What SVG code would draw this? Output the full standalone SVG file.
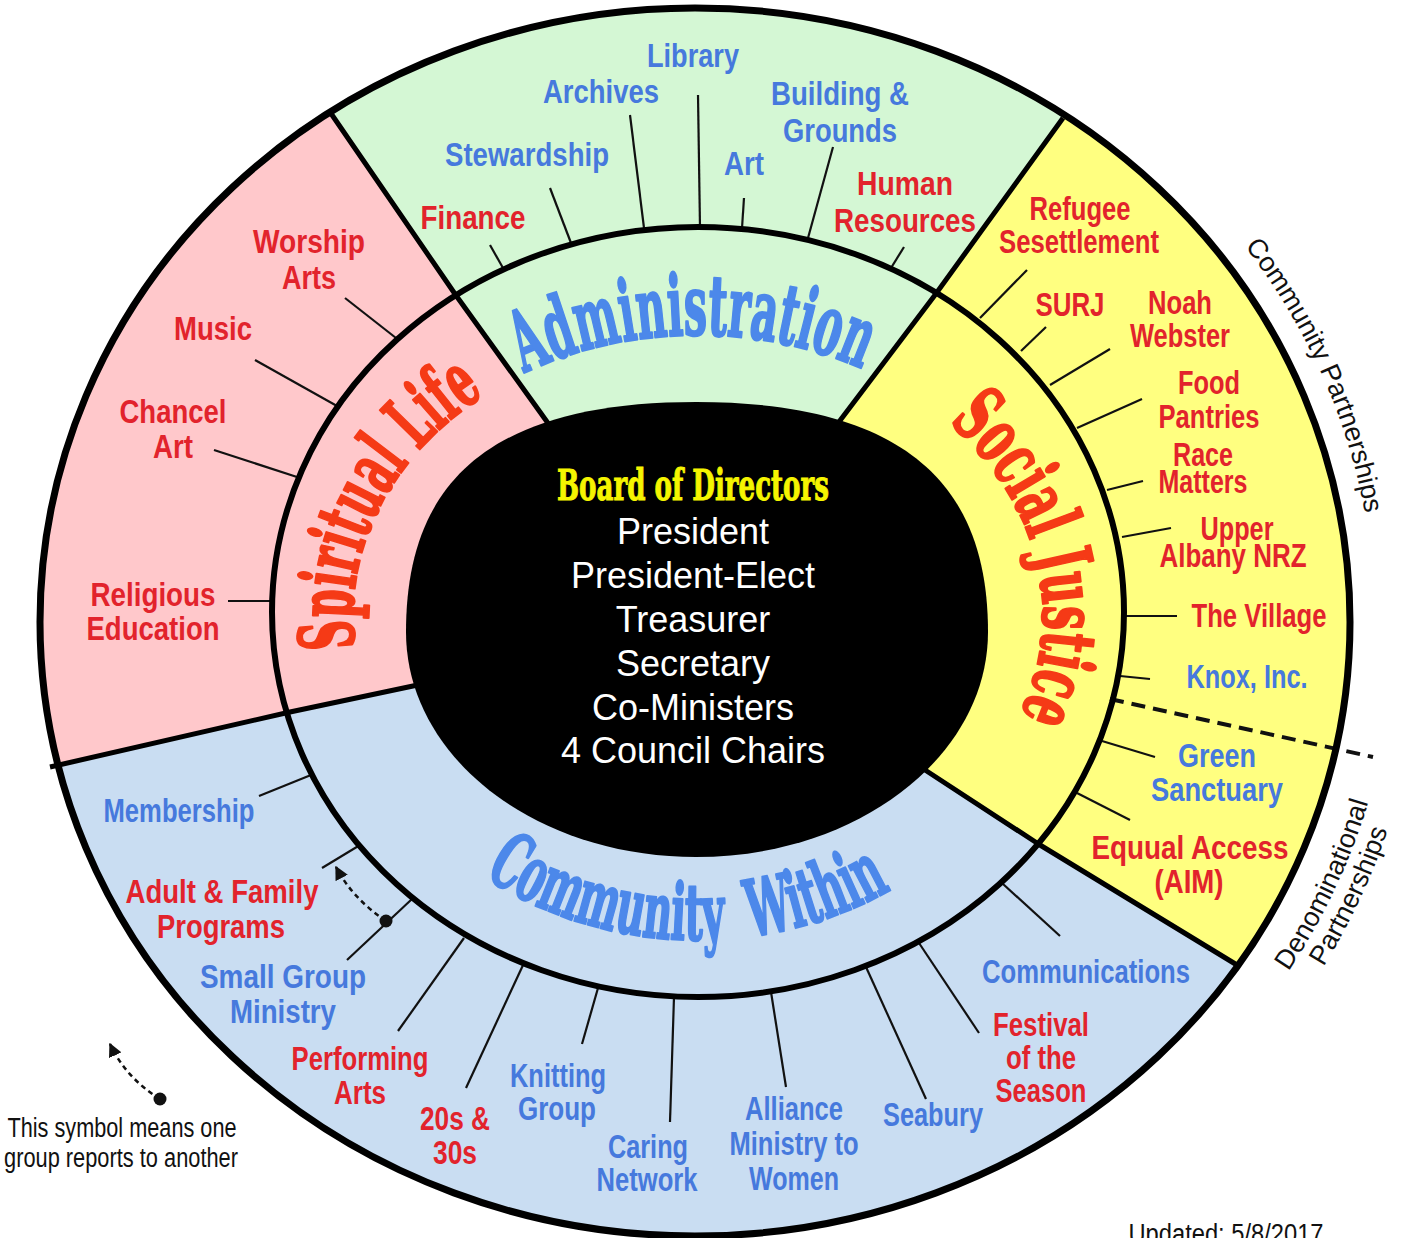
<svg xmlns="http://www.w3.org/2000/svg" width="1404" height="1238" viewBox="0 0 1404 1238">
<style>
.lbl{font-family:"Liberation Sans Narrow","Arial Narrow","Liberation Sans",Arial,sans-serif;font-weight:bold;font-size:33px;text-anchor:middle}
.r{fill:#E2232C}
.b{fill:#4679DD}
.title{font-family:"DejaVu Serif","Liberation Serif",serif;font-weight:bold;stroke-width:2.5;stroke-linejoin:round}
.tb{fill:#4C88EA;stroke:#4C88EA}
.tr{fill:#F53A16;stroke:#F53A16}
.ctr{font-family:"Liberation Sans",Arial,sans-serif;font-size:36px;fill:#fff;text-anchor:middle}
.out{font-family:"Liberation Sans",Arial,sans-serif;font-size:27px;fill:#111}
.lead{stroke:#111;stroke-width:2.2;fill:none}
.div{stroke:#000;stroke-width:5;fill:none;stroke-linejoin:round}
.dash{stroke:#111;stroke-width:2.5;fill:none;stroke-dasharray:5 4}
</style>
<defs>
<clipPath id="clipOuter"><ellipse cx="695" cy="622" rx="655" ry="614"/></clipPath>
<marker id="ah" viewBox="0 0 10 10" refX="9" refY="5" markerWidth="5.5" markerHeight="5.5" orient="auto"><path d="M0,0 L10,5 L0,10 z" fill="#111"/></marker>
<path id="pAdmin" d="M 429.9 438.8 A 345 280 0 0 1 958.4 431.3"/>
<path id="pSpirit" d="M 399.2 755 A 345 280 0 0 1 591.4 348.7"/>
<path id="pSocial" d="M 867.9 371.3 A 345 280 0 0 1 964.2 793.1"/>
<path id="pComm" d="M 418.2 819.5 A 360 325 0 0 0 969.7 828.2"/>
<path id="pCP" d="M 1035 69.5 A 680 638 0 0 1 1351.8 787.1"/>
<path id="pDen1" d="M 1045 1192.7 A 700 659 0 0 0 1377.1 473.8"/>
<path id="pDen2" d="M 1058.5 1216.1 A 727 686 0 0 0 1403.4 467.7"/>
</defs>
<rect width="1404" height="1238" fill="#fff"/>

<g id="sectors" clip-path="url(#clipOuter)">
<ellipse cx="695" cy="622" rx="655" ry="614" fill="#C9DDF2"/>
<polygon fill="#FFC8CB" points="697,630 575,461 540,412 455,294 330,112 239,-20 -20,-20 -20,784 50,768 290,712 413,686 471.7,673.6"/>
<polygon fill="#D4F7D4" points="697,630 575,461 540,412 455,294 330,112 239,-20 1163,-20 1058,125 935,295 848,410 811.8,457.8"/>
<polygon fill="#FFFF80" points="697,630 811.8,457.8 848,410 935,295 1058,125 1163,-20 1424,-20 1424,1079 1232,962 1040,845 922,768 871.8,735.2"/>
</g>

<g id="connectors">
<polyline class="div" points="575,461 540,412 455,294 330,112"/>
<polyline class="div" points="811.8,457.8 848,410 935,295 1063,118"/>
<polyline class="div" points="871.8,735.2 922,768 1040,845 1237,965"/>
<polyline class="div" points="471.7,673.6 413,686 290,712 50,767"/>
<line class="lead" x1="490" y1="245" x2="503" y2="268"/>
<line class="lead" x1="550" y1="188" x2="571" y2="243"/>
<line class="lead" x1="630" y1="115" x2="644" y2="228"/>
<line class="lead" x1="698" y1="95" x2="700" y2="228"/>
<line class="lead" x1="744" y1="198" x2="742" y2="228"/>
<line class="lead" x1="833" y1="147" x2="808" y2="238"/>
<line class="lead" x1="904" y1="247" x2="891" y2="268"/>
<line class="lead" x1="345" y1="298" x2="396" y2="338"/>
<line class="lead" x1="255" y1="360" x2="337" y2="406"/>
<line class="lead" x1="214" y1="450" x2="297" y2="477"/>
<line class="lead" x1="228" y1="601" x2="274" y2="601"/>
<line class="lead" x1="259" y1="796" x2="311" y2="775"/>
<line class="lead" x1="322" y1="868" x2="360" y2="845"/>
<line class="lead" x1="347" y1="960" x2="412" y2="899"/>
<line class="lead" x1="398" y1="1031" x2="464" y2="938"/>
<line class="lead" x1="466" y1="1088" x2="524" y2="963"/>
<line class="lead" x1="582" y1="1044" x2="598" y2="988"/>
<line class="lead" x1="670" y1="1122" x2="674" y2="997"/>
<line class="lead" x1="786" y1="1087" x2="771" y2="992"/>
<line class="lead" x1="926" y1="1099" x2="866" y2="967"/>
<line class="lead" x1="979" y1="1033" x2="919" y2="943"/>
<line class="lead" x1="1060" y1="936" x2="1003" y2="884"/>
<line class="lead" x1="1027" y1="270" x2="980" y2="318"/>
<line class="lead" x1="1046" y1="327" x2="1021" y2="351"/>
<line class="lead" x1="1110" y1="349" x2="1050" y2="385"/>
<line class="lead" x1="1142" y1="399" x2="1077" y2="428"/>
<line class="lead" x1="1143" y1="481" x2="1107" y2="490"/>
<line class="lead" x1="1171" y1="528" x2="1122" y2="537"/>
<line class="lead" x1="1177" y1="616" x2="1125" y2="616"/>
<line class="lead" x1="1150" y1="679" x2="1120" y2="676"/>
<line class="lead" x1="1155" y1="757" x2="1102" y2="741"/>
<line class="lead" x1="1130" y1="820" x2="1077" y2="793"/>
<line x1="1110" y1="699" x2="1373" y2="757" stroke="#111" stroke-width="4" stroke-dasharray="14 8"/>
<path class="dash" d="M 386 921 Q 352 898 336 867" marker-end="url(#ah)"/>
<circle cx="386" cy="921" r="6.5" fill="#111"/>
</g>

<ellipse id="ring" cx="698" cy="612" rx="426" ry="385" fill="none" stroke="#000" stroke-width="6"/>
<ellipse id="rim" cx="695" cy="622" rx="655" ry="614" fill="none" stroke="#000" stroke-width="7"/>

<g id="board">
<path d="M 696 402 C 916 402 988 494 988 632 C 988 756 858 857 696 857 C 534 857 406 756 406 632 C 406 494 476 402 696 402 Z" fill="#000"/>
<text x="693" y="500" font-family="DejaVu Serif, Liberation Serif, serif" font-weight="bold" font-size="42" fill="#F5F500" stroke="#F5F500" stroke-width="1" text-anchor="middle" textLength="272" lengthAdjust="spacingAndGlyphs">Board of Directors</text>
<text class="ctr" x="693" y="544">President</text>
<text class="ctr" x="693" y="588">President-Elect</text>
<text class="ctr" x="693" y="632">Treasurer</text>
<text class="ctr" x="693" y="676">Secretary</text>
<text class="ctr" x="693" y="720">Co-Ministers</text>
<text class="ctr" x="693" y="763">4 Council Chairs</text>
</g>

<g id="administration"><text class="title tb" font-size="84"><textPath href="#pAdmin" startOffset="50%" text-anchor="middle" textLength="348" lengthAdjust="spacingAndGlyphs">Administration</textPath></text></g>
<g id="spiritual-life"><text class="title tr" font-size="76"><textPath href="#pSpirit" startOffset="50%" text-anchor="middle" textLength="300" lengthAdjust="spacingAndGlyphs">Spiritual Life</textPath></text></g>
<g id="social-justice"><text class="title tr" font-size="76"><textPath href="#pSocial" startOffset="50%" text-anchor="middle" textLength="325" lengthAdjust="spacingAndGlyphs">Social Justice</textPath></text></g>
<g id="community-within"><text class="title tb" font-size="78" word-spacing="24"><textPath href="#pComm" startOffset="49%" text-anchor="middle" textLength="428" lengthAdjust="spacingAndGlyphs">Community Within</textPath></text></g>

<g id="finance"><text class="lbl r" x="473" y="229" textLength="105" lengthAdjust="spacingAndGlyphs">Finance</text></g>
<g id="stewardship"><text class="lbl b" x="527" y="166" textLength="164" lengthAdjust="spacingAndGlyphs">Stewardship</text></g>
<g id="archives"><text class="lbl b" x="601" y="103" textLength="116" lengthAdjust="spacingAndGlyphs">Archives</text></g>
<g id="library"><text class="lbl b" x="693" y="67" textLength="92" lengthAdjust="spacingAndGlyphs">Library</text></g>
<g id="art-admin"><text class="lbl b" x="744" y="175" textLength="40" lengthAdjust="spacingAndGlyphs">Art</text></g>
<g id="building"><text class="lbl b" x="840" y="105" textLength="138" lengthAdjust="spacingAndGlyphs">Building &amp;</text><text class="lbl b" x="840" y="142" textLength="114" lengthAdjust="spacingAndGlyphs">Grounds</text></g>
<g id="human-resources"><text class="lbl r" x="905" y="195" textLength="96" lengthAdjust="spacingAndGlyphs">Human</text><text class="lbl r" x="905" y="232" textLength="142" lengthAdjust="spacingAndGlyphs">Resources</text></g>

<g id="worship-arts"><text class="lbl r" x="309" y="253" textLength="112" lengthAdjust="spacingAndGlyphs">Worship</text><text class="lbl r" x="309" y="289" textLength="54" lengthAdjust="spacingAndGlyphs">Arts</text></g>
<g id="music"><text class="lbl r" x="213" y="340" textLength="78" lengthAdjust="spacingAndGlyphs">Music</text></g>
<g id="chancel-art"><text class="lbl r" x="173" y="423" textLength="107" lengthAdjust="spacingAndGlyphs">Chancel</text><text class="lbl r" x="173" y="458" textLength="40" lengthAdjust="spacingAndGlyphs">Art</text></g>
<g id="religious-education"><text class="lbl r" x="153" y="606" textLength="125" lengthAdjust="spacingAndGlyphs">Religious</text><text class="lbl r" x="153" y="640" textLength="133" lengthAdjust="spacingAndGlyphs">Education</text></g>

<g id="membership"><text class="lbl b" x="179" y="822" textLength="151" lengthAdjust="spacingAndGlyphs">Membership</text></g>
<g id="adult-family"><text class="lbl r" x="222" y="903" textLength="193" lengthAdjust="spacingAndGlyphs">Adult &amp; Family</text><text class="lbl r" x="221" y="938" textLength="128" lengthAdjust="spacingAndGlyphs">Programs</text></g>
<g id="small-group"><text class="lbl b" x="283" y="988" textLength="166" lengthAdjust="spacingAndGlyphs">Small Group</text><text class="lbl b" x="283" y="1023" textLength="106" lengthAdjust="spacingAndGlyphs">Ministry</text></g>
<g id="performing-arts"><text class="lbl r" x="360" y="1070" textLength="137" lengthAdjust="spacingAndGlyphs">Performing</text><text class="lbl r" x="360" y="1104" textLength="52" lengthAdjust="spacingAndGlyphs">Arts</text></g>
<g id="twenties"><text class="lbl r" x="455" y="1130" textLength="70" lengthAdjust="spacingAndGlyphs">20s &amp;</text><text class="lbl r" x="455" y="1164" textLength="44" lengthAdjust="spacingAndGlyphs">30s</text></g>
<g id="knitting"><text class="lbl b" x="558" y="1087" textLength="96" lengthAdjust="spacingAndGlyphs">Knitting</text><text class="lbl b" x="557" y="1120" textLength="78" lengthAdjust="spacingAndGlyphs">Group</text></g>
<g id="caring"><text class="lbl b" x="648" y="1158" textLength="80" lengthAdjust="spacingAndGlyphs">Caring</text><text class="lbl b" x="647" y="1191" textLength="101" lengthAdjust="spacingAndGlyphs">Network</text></g>
<g id="alliance"><text class="lbl b" x="794" y="1120" textLength="98" lengthAdjust="spacingAndGlyphs">Alliance</text><text class="lbl b" x="794" y="1155" textLength="129" lengthAdjust="spacingAndGlyphs">Ministry to</text><text class="lbl b" x="794" y="1190" textLength="90" lengthAdjust="spacingAndGlyphs">Women</text></g>
<g id="seabury"><text class="lbl b" x="933" y="1126" textLength="100" lengthAdjust="spacingAndGlyphs">Seabury</text></g>
<g id="festival"><text class="lbl r" x="1041" y="1036" textLength="96" lengthAdjust="spacingAndGlyphs">Festival</text><text class="lbl r" x="1041" y="1069" textLength="70" lengthAdjust="spacingAndGlyphs">of the</text><text class="lbl r" x="1041" y="1102" textLength="91" lengthAdjust="spacingAndGlyphs">Season</text></g>
<g id="communications"><text class="lbl b" x="1086" y="983" textLength="208" lengthAdjust="spacingAndGlyphs">Communications</text></g>

<g id="refugee"><text class="lbl r" x="1080" y="220" textLength="101" lengthAdjust="spacingAndGlyphs">Refugee</text><text class="lbl r" x="1079" y="253" textLength="160" lengthAdjust="spacingAndGlyphs">Sesettlement</text></g>
<g id="surj"><text class="lbl r" x="1070" y="316" textLength="69" lengthAdjust="spacingAndGlyphs">SURJ</text></g>
<g id="noah-webster"><text class="lbl r" x="1180" y="314" textLength="64" lengthAdjust="spacingAndGlyphs">Noah</text><text class="lbl r" x="1180" y="347" textLength="100" lengthAdjust="spacingAndGlyphs">Webster</text></g>
<g id="food-pantries"><text class="lbl r" x="1209" y="394" textLength="62" lengthAdjust="spacingAndGlyphs">Food</text><text class="lbl r" x="1209" y="428" textLength="101" lengthAdjust="spacingAndGlyphs">Pantries</text></g>
<g id="race-matters"><text class="lbl r" x="1203" y="466" textLength="60" lengthAdjust="spacingAndGlyphs">Race</text><text class="lbl r" x="1203" y="493" textLength="89" lengthAdjust="spacingAndGlyphs">Matters</text></g>
<g id="upper-albany"><text class="lbl r" x="1237" y="540" textLength="73" lengthAdjust="spacingAndGlyphs">Upper</text><text class="lbl r" x="1233" y="567" textLength="147" lengthAdjust="spacingAndGlyphs">Albany NRZ</text></g>
<g id="village"><text class="lbl r" x="1259" y="627" textLength="135" lengthAdjust="spacingAndGlyphs">The Village</text></g>
<g id="knox"><text class="lbl b" x="1247" y="688" textLength="121" lengthAdjust="spacingAndGlyphs">Knox, Inc.</text></g>
<g id="green-sanctuary"><text class="lbl b" x="1217" y="767" textLength="78" lengthAdjust="spacingAndGlyphs">Green</text><text class="lbl b" x="1217" y="801" textLength="132" lengthAdjust="spacingAndGlyphs">Sanctuary</text></g>
<g id="equal-access"><text class="lbl r" x="1190" y="859" textLength="197" lengthAdjust="spacingAndGlyphs">Equual Access</text><text class="lbl r" x="1189" y="893" textLength="69" lengthAdjust="spacingAndGlyphs">(AIM)</text></g>

<g id="community-partnerships"><text class="out" font-size="29"><textPath href="#pCP" startOffset="50%" text-anchor="middle">Community Partnerships</textPath></text></g>
<g id="denominational-partnerships"><text class="out"><textPath href="#pDen1" startOffset="50%" text-anchor="middle">Denominational</textPath></text><text class="out"><textPath href="#pDen2" startOffset="50%" text-anchor="middle">Partnerships</textPath></text></g>

<g id="legend">
<path class="dash" d="M 160 1099 Q 126 1078 110 1044" marker-end="url(#ah)"/>
<circle cx="160" cy="1099" r="6.5" fill="#111"/>
<text class="out" x="122" y="1137" fill="#333" text-anchor="middle" font-size="26" textLength="229" lengthAdjust="spacingAndGlyphs">This symbol means one</text>
<text class="out" x="121" y="1167" fill="#333" text-anchor="middle" font-size="26" textLength="234" lengthAdjust="spacingAndGlyphs">group reports to another</text>
</g>
<g id="updated"><text class="out" x="1226" y="1243" text-anchor="middle" font-size="26" textLength="195" lengthAdjust="spacingAndGlyphs">Updated: 5/8/2017</text></g>
</svg>
